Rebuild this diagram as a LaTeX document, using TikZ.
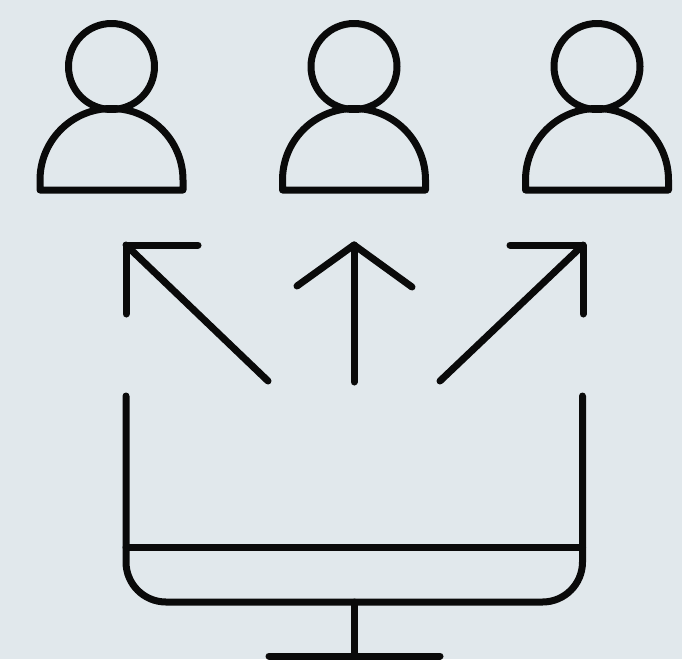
\documentclass[tikz,border=0pt]{standalone}
\usepackage{xcolor}
\definecolor{paper}{HTML}{E1E8EC}
\definecolor{ink}{HTML}{0A0A0A}
\usetikzlibrary{positioning}

\begin{document}
\begin{tikzpicture}[
  x=1pt, y=-1pt,
  outline/.style={draw=ink, line width=7pt, line join=round, line cap=round},
  headRing/.style={circle, outline, minimum size=86pt, inner sep=0pt},
]

% ------------------- Frame -------------------
\fill[paper] (0,0) rectangle (682,659);
\useasboundingbox (0,0) rectangle (682,659);
\clip (0,0) rectangle (682,659);

% ------------------- Persons (top row) -------------------
\foreach \px/\pname in {111.5/left, 354/mid, 597/right} {
  \node[headRing] (head\pname) at (\px,66.5) {};
  \draw[outline] (\px-71.5,190) -- (\px-71.5,180) arc[start angle=180, end angle=360, radius=71.5] -- (\px+71.5,190) -- cycle;
}

% ------------------- Arrows (middle row) -------------------
\coordinate (tipLeft) at (126,245);
\coordinate (tipMid) at (354,245);
\coordinate (tipRight) at (583,245);

\draw[outline] (198,245) -- (tipLeft) -- (126,314);
\draw[outline] (tipLeft) -- (268,381);

\draw[outline] (297,286) -- (tipMid) -- (412,287);
\draw[outline] (tipMid) -- (354,382);

\draw[outline] (510,245) -- (tipRight) -- (583,314);
\draw[outline] (tipRight) -- (440,381);

% ------------------- Monitor (bottom) -------------------
\draw[outline] (126,396) -- (126,562) arc[start angle=180, end angle=90, radius=40] -- (542.5,602) arc[start angle=90, end angle=0, radius=40] -- (582.5,396);
\draw[outline] (126,547) -- (582.5,547);

% Stand and foot
\coordinate (standTop) at (354.5,602);
\coordinate (standFoot) at (354.5,656);
\draw[outline] (standTop) -- (standFoot);
\draw[outline] (269,656) -- (440,656);

\end{tikzpicture}
\end{document}
